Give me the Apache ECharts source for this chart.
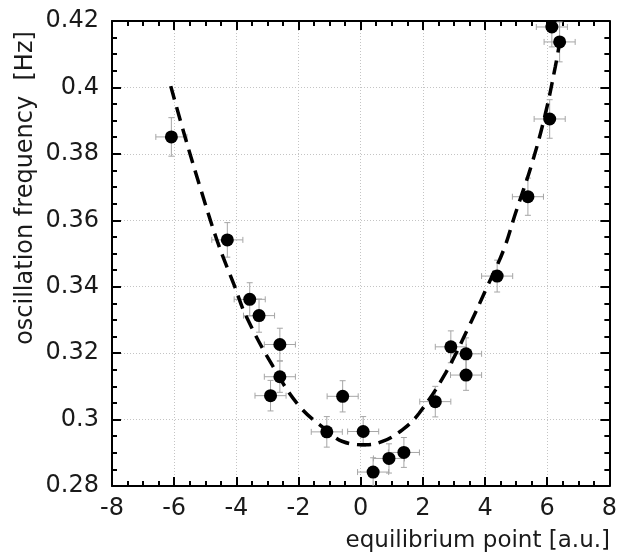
<!DOCTYPE html>
<html><head><meta charset="utf-8">
<script src="https://cdn.jsdelivr.net/npm/echarts@6/dist/echarts.min.js"></script>
<style>html,body{margin:0;padding:0;background:#fff}#c{width:620px;height:557px}</style>
</head><body><div id="c"></div>
<script>
// tick labels
const xTickLabels = ['-8','-6','-4','-2','0','2','4','6','8'];
const yTickLabels = ['0.28','0.3','0.32','0.34','0.36','0.38','0.4','0.42'];

// measured points
const pointX = [-6.09,-4.29,-3.57,-3.27,-2.60,-2.60,-2.90,-0.58,-1.09,0.08,0.40,0.91,1.39,2.40,2.90,3.39,3.39,4.39,5.38,6.08,6.40,6.15];
const pointY = [0.3851,0.3541,0.3362,0.3313,0.3226,0.3129,0.3072,0.3070,0.2963,0.2964,0.2842,0.2883,0.2901,0.3054,0.3219,0.3198,0.3134,0.3432,0.3671,0.3905,0.4137,0.4182];
const pointYErr = [0.0058,0.0052,0.0050,0.0050,0.0049,0.0047,0.0046,0.0047,0.0046,0.0045,0.0043,0.0044,0.0045,0.0046,0.0048,0.0048,0.0046,0.0048,0.0056,0.0058,0.0060,0.0060];
const pointXErr = [0.5,0.5,0.5,0.5,0.5,0.5,0.5,0.5,0.5,0.5,0.5,0.5,0.5,0.5,0.5,0.5,0.5,0.5,0.5,0.5,0.5,0.5];

// dashed fit curve
const curveX = [-6.11,-5.65,-5.17,-4.59,-4.05,-3.68,-2.82,-1.97,-1.11,-0.58,0.17,0.70,1.34,1.88,2.73,3.48,4.07,4.60,4.98,5.51,5.94,6.26,6.40];
const curveY = [0.4004,0.3851,0.3701,0.3531,0.3400,0.3310,0.3160,0.3040,0.2969,0.2934,0.2924,0.2934,0.2969,0.3019,0.3140,0.3280,0.3400,0.3511,0.3621,0.3771,0.3920,0.4062,0.4135];

const FONT = '"DejaVu Sans", sans-serif';
const pts = pointX.map((x,i)=>[x,pointY[i]]);
const errData = pointX.map((x,i)=>[x,pointY[i],pointXErr[i],pointYErr[i]]);
const curve = curveX.map((x,i)=>[x,curveY[i]]);

function yFmt(v){ const s = parseFloat(v.toFixed(3)).toString(); return yTickLabels.indexOf(s)>=0 ? s : ''; }
function xFmt(v){ const s = String(Math.round(v)); return xTickLabels.indexOf(s)>=0 ? s : ''; }

const axisLineStyle = {color:'#000', width:2};
const gridLine = {show:true, lineStyle:{color:'#c4c4c4', width:1, type:[1,2]}};

const chart = echarts.init(document.getElementById('c'), null, {renderer:'canvas'});
chart.setOption({
  animation:false,
  backgroundColor:'#fff',
  grid:{left:112, right:9, top:21, bottom:71, containLabel:false},
  xAxis:[{
    type:'value', min:-8, max:8, interval:2, position:'bottom',
    axisLine:{show:true, onZero:false, lineStyle:axisLineStyle},
    axisTick:{show:true, inside:true, length:9, lineStyle:{color:'#000', width:2}},
    minorTick:{show:true, splitNumber:4, length:5, lineStyle:{color:'#000', width:2}},
    axisLabel:{formatter:xFmt, fontFamily:FONT, fontSize:24, color:'#1a1a1a', margin:11},
    splitLine:gridLine
  },{
    type:'value', min:-8, max:8, interval:2, position:'top',
    axisLine:{show:true, onZero:false, lineStyle:axisLineStyle},
    axisTick:{show:true, inside:true, length:9, lineStyle:{color:'#000', width:2}},
    minorTick:{show:true, splitNumber:4, length:5, lineStyle:{color:'#000', width:2}},
    axisLabel:{show:false}, splitLine:{show:false}
  }],
  yAxis:[{
    type:'value', min:0.28, max:0.42, interval:0.02, position:'left',
    axisLine:{show:true, onZero:false, lineStyle:axisLineStyle},
    axisTick:{show:true, inside:true, length:9, lineStyle:{color:'#000', width:2}},
    minorTick:{show:true, splitNumber:4, length:5, lineStyle:{color:'#000', width:2}},
    axisLabel:{formatter:yFmt, fontFamily:FONT, fontSize:24, color:'#1a1a1a', margin:13},
    splitLine:gridLine
  },{
    type:'value', min:0.28, max:0.42, interval:0.02, position:'right',
    axisLine:{show:true, onZero:false, lineStyle:axisLineStyle},
    axisTick:{show:true, inside:true, length:9, lineStyle:{color:'#000', width:2}},
    minorTick:{show:true, splitNumber:4, length:5, lineStyle:{color:'#000', width:2}},
    axisLabel:{show:false}, splitLine:{show:false}
  }],
  graphic:[
    {type:'text', x:610, y:541, style:{text:'equilibrium point [a.u.]', font:'23px '+FONT, fill:'#1a1a1a', align:'right', verticalAlign:'middle'}},
    {type:'text', x:26, y:188, rotation:Math.PI/2, style:{text:'oscillation frequency  [Hz]', font:'24px '+FONT, fill:'#1a1a1a', align:'center', verticalAlign:'middle'}}
  ],
  series:[
    {
      type:'custom', xAxisIndex:0, yAxisIndex:0, clip:true, z:1,
      data:errData,
      renderItem:function(params, api){
        const x=api.value(0), y=api.value(1), ex=api.value(2), ey=api.value(3);
        const c=api.coord([x,y]);
        const l=api.coord([x-ex,y]), r=api.coord([x+ex,y]);
        const t=api.coord([x,y+ey]), b=api.coord([x,y-ey]);
        const cap=3;
        const st={stroke:'#a6a6a6', lineWidth:1};
        return {type:'group', children:[
          {type:'line', shape:{x1:l[0],y1:c[1],x2:r[0],y2:c[1]}, style:st},
          {type:'line', shape:{x1:c[0],y1:t[1],x2:c[0],y2:b[1]}, style:st},
          {type:'line', shape:{x1:l[0],y1:c[1]-cap,x2:l[0],y2:c[1]+cap}, style:st},
          {type:'line', shape:{x1:r[0],y1:c[1]-cap,x2:r[0],y2:c[1]+cap}, style:st},
          {type:'line', shape:{x1:c[0]-cap,y1:t[1],x2:c[0]+cap,y2:t[1]}, style:st},
          {type:'line', shape:{x1:c[0]-cap,y1:b[1],x2:c[0]+cap,y2:b[1]}, style:st}
        ]};
      }
    },
    {
      type:'line', xAxisIndex:0, yAxisIndex:0, data:curve, smooth:0.4, symbol:'none', z:2,
      lineStyle:{color:'#000', width:3.5, type:[14,8]}
    },
    {
      type:'scatter', xAxisIndex:0, yAxisIndex:0, data:pts, symbol:'circle', symbolSize:13, z:3,
      itemStyle:{color:'#000', opacity:1}
    }
  ]
});
</script>
</body></html>
